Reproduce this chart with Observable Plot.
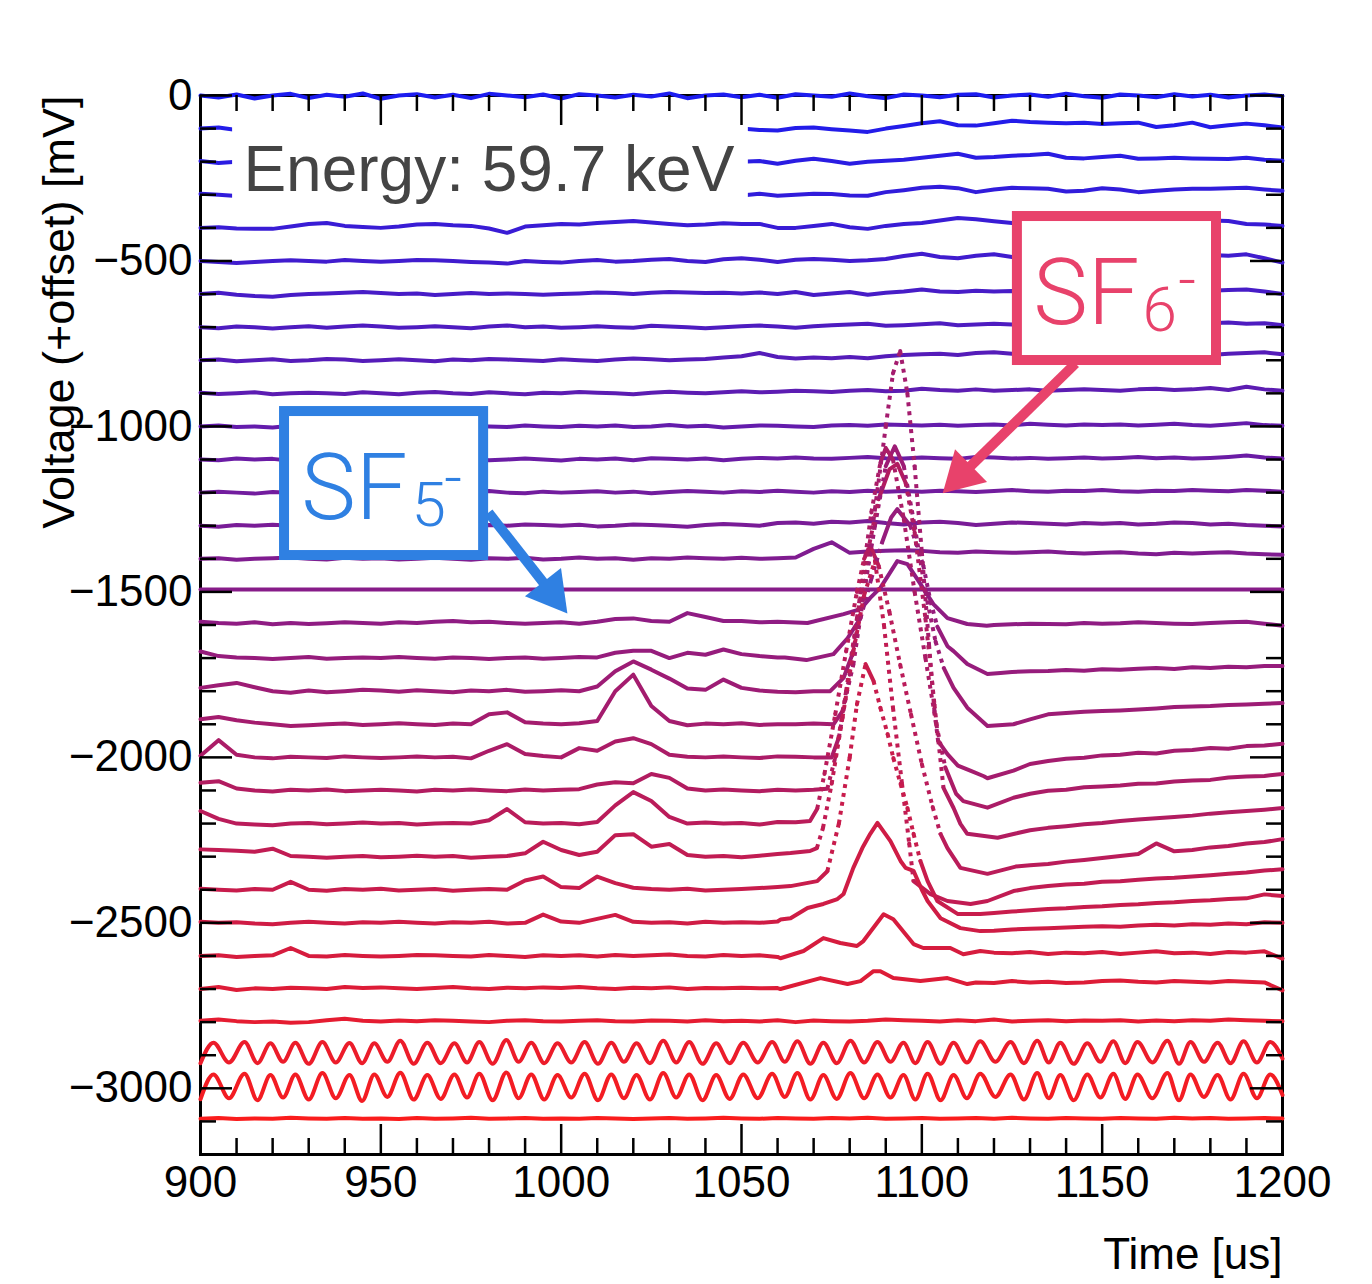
<!DOCTYPE html>
<html><head><meta charset="utf-8">
<script src="https://cdn.jsdelivr.net/npm/d3@7"></script>
<script src="https://cdn.jsdelivr.net/npm/@observablehq/plot@0.6"></script>
<style>
html,body{margin:0;padding:0;background:#fff;}
#chart{width:1372px;height:1284px;}
</style></head><body><div id="chart"></div>
<script>
// ---------------- DATA ----------------
const timeGrid = [900,905,910,915,920,925,930,935,940,945,950,955,960,965,970,975,980,985,990,995,1000,1005,1010,1015,1020,1025,1030,1035,1040,1045,1050,1055,1060,1065,1070,1075,1080,1085,1090,1095,1100,1105,1110,1115,1120,1125,1130,1135,1140,1145,1150,1155,1160,1165,1170,1175,1180,1185,1190,1195,1200];
const offsets = [0,-100,-200,-300,-400,-500,-600,-700,-800,-900,-1000,-1100,-1200,-1300,-1400,-1500,-1600,-1700,-1800,-1900,-2000,-2100,-2200,-2300,-2400,-2500,-2600,-2700,-2800,-2900,-3000,-3100];
const _ = null;
// deviation from each trace's offset [mV] on timeGrid (null = given by detailed points below)
const wave0 = [0,-6,3,-9,0,5,-8,2,-4,6, -10,0,4,-6,2,-8,5,0,-5,3, -9,4,0,-6,2,-3,6,-8,0,3, -5,2,-7,4,0,-4,6,-2,-8,3, 0,-5,2,4,-6,0,3,-4,5,-2, -7,3,0,-5,4,-3,2,-6,0,3, -2];
const wave1 = [0,3,-4,2,-6,4,0,-3,5,-2, 3,-5,0,4,-3,2,-6,3,0,-4, 5,-2,3,-5,0,4,-3,2,-4,3, 0,-4,-6,2,3,-2,-6,-10,0,8, 16,22,10,9,16,24,20,18,16,18, 14,16,18,5,10,18,4,10,15,10, 3];
const wave2 = [2,-4,0,3,-5,2,0,-3,4,0, -4,2,5,-2,0,3,-5,0,4,-2, 0,-5,3,0,-3,4,-2,0,3,-4, 0,2,-6,3,9,2,-6,0,3,6, 12,18,24,12,14,18,20,24,12,10, 14,18,9,10,12,10,9,8,12,6, 3];
const wave3 = [3,0,-4,2,5,-2,0,4,-3,2, 0,-5,3,0,-2,4,0,-4,2,0, 3,-3,0,5,-2,0,3,-4,2,0, -2,3,-3,0,3,2,-2,-3,8,14, 21,24,20,8,16,21,20,18,10,12, 20,16,8,12,16,18,18,20,21,16, 12];
const wave4 = [0,2,-2,-3,-3,4,12,15,6,3, 0,4,10,12,8,6,-2,-15,4,8, 12,10,15,18,21,16,12,8,10,14, 12,12,0,0,6,12,2,-3,6,12, 15,22,30,26,20,15,18,21,16,14, 12,14,21,18,16,20,22,21,12,10, 6];
const wave5 = [0,-3,-6,-3,0,2,0,-2,3,0, -2,0,3,2,0,-3,-5,-8,0,-3, -5,0,3,-2,0,4,6,0,-3,5, 8,4,-3,4,6,4,0,2,6,15, 22,12,8,16,20,12,16,18,14,18, 14,16,18,20,22,24,18,16,20,8, -5];
const wave6 = [0,4,-2,-6,-8,-3,0,2,4,6, 3,0,2,-3,0,3,0,2,0,-2, 0,2,5,3,0,4,6,5,3,4, 2,5,0,6,-3,2,6,-2,4,8, 14,8,6,10,8,9,8,10,8,6, 9,8,5,8,10,12,10,12,14,8, 0];
const wave7 = [0,-3,2,0,-4,0,3,-2,2,5, 2,-2,0,3,0,-3,2,5,0,2, -2,0,3,0,-2,4,2,0,-3,0, 3,5,2,-2,3,6,8,10,4,6, 9,12,6,8,10,8,12,10,8,10, 8,10,12,9,10,8,12,14,10,12, 6];
const wave8 = [0,2,-3,0,3,-2,0,4,2,-2, 0,3,0,-3,2,0,4,2,0,-2, 3,0,-2,2,5,3,0,2,4,8, 12,22,10,5,8,6,10,6,12,16, 18,20,16,22,24,20,18,22,20,16, 18,20,16,20,22,18,16,20,22,24, 18];
const wave9 = [2,-2,0,3,-3,0,2,0,-2,3, 0,-3,2,4,0,-2,3,0,-3,2, 0,4,2,0,-3,2,5,2,0,3, 6,3,5,8,6,4,8,10,6,8, 14,10,8,12,8,10,12,8,10,12, 10,8,12,14,10,12,16,10,20,12, 8];
const wave10 = [0,3,-2,0,-3,2,0,3,0,-2, 2,0,-3,0,3,2,0,-2,3,0, -2,2,0,3,-2,0,4,0,2,-3, 0,3,2,0,-2,3,4,2,6,4, 3,5,2,4,6,3,8,5,3,6, 4,6,3,5,8,4,2,6,10,4, 2];
const wave11 = [0,-2,3,0,2,-4,0,3,-2,0, 3,0,-3,2,0,4,-2,0,3,0, -3,2,0,3,-2,4,2,0,3,-2, 2,5,3,6,3,2,5,8,4,3, 6,4,2,8,6,3,5,2,4,6, 3,5,8,4,6,3,5,8,12,6, 3];
const wave12 = [0,3,0,-3,2,0,3,-2,0,4, 2,0,-2,3,0,2,5,0,-2,3, 0,2,4,0,3,-2,2,5,3,0, 4,2,6,3,0,4,2,6,3,5, 3,6,4,2,5,8,4,3,6,5, 8,4,3,6,5,8,6,4,8,6, 3];
const wave13 = [0,-3,2,0,3,0,-2,4,0,2, -2,0,3,2,0,-3,2,0,4,2, 0,3,-2,0,4,2,0,-3,2,5, 3,0,8,10,6,12,10,14,8,4, 10,12,8,2,6,10,8,6,4,8, 6,8,4,6,10,8,4,6,2,0, -2];
const wave14 = [0,2,-3,0,2,4,0,-2,3,0, 2,-2,0,3,0,-3,2,0,3,-2, 0,4,0,2,-3,2,0,4,2,0, 3,0,2,4,30,50,18,22,24,26, 24,20,18,22,20,18,20,22,18,16, 18,20,16,14,18,16,18,20,16,14, 12];
const wave15 = [7,7,7,7,7,7,7,7,7,7, 7,7,7,7,7,7,7,7,7,7, 7,7,7,7,7,7,7,7,7,7, 7,7,7,7,7,7,7,7,7,7, 7,7,7,7,7,7,7,7,7,7, 7,7,7,7,7,7,7,7,7,7, 7];
const wave16 = [10,6,4,8,2,6,3,5,8,6, 4,8,6,10,12,8,10,6,4,6, 8,4,10,18,20,12,10,36,24,12, 12,8,_,_,_,_,_,_,_,_, _,_,_,_,0,2,4,3,2,6, 4,5,8,6,4,3,6,8,10,4, -2];
const wave17 = [20,6,2,0,-3,0,3,-2,0,2, 0,3,0,-2,2,0,-3,0,2,-2, 0,3,2,16,22,22,0,16,10,26, 12,6,2,_,_,_,_,_,_,_, _,_,_,_,_,-42,-40,-39,-36,-38, -34,-35,-32,-30,-33,-28,-30,-26,-28,-24, -24];
const wave18 = [10,18,25,12,0,-5,2,-3,0,4, 2,-2,3,0,-3,2,0,4,-2,0, 3,0,14,60,90,65,38,8,4,35, 10,2,-2,_,_,_,_,_,_,_, _,_,_,_,_,_,-85,-70,-66,-62, -60,-58,-55,-52,-48,-46,-45,-42,-40,-38, -36];
const wave19 = [15,22,12,5,0,-5,-3,0,2,-2, 0,3,0,-2,2,0,30,36,6,2, 0,3,10,100,150,55,10,-3,2,0, 3,-2,0,_,_,_,_,_,_,_, _,_,_,_,_,_,-120,-111,-104,-101, -94,-92,-86,-88,-80,-78,-72,-74,-66,-64, -59];
const wave20 = [5,52,8,0,-3,2,0,-2,3,0, -2,0,3,0,2,-3,20,40,10,4, 0,28,20,48,58,40,8,2,0,3, 0,-2,3,_,_,_,_,_,_,_, _,_,_,_,_,_,-110,-101,-98,-90, -88,-85,-80,-79,-73,-70,-68,-61,-58,-56, -50];
const wave21 = [23,28,6,0,-3,2,0,3,-2,0, 2,0,-3,2,0,3,0,-2,3,0, 2,4,18,25,22,50,38,6,0,3, 0,-2,2,_,_,_,_,_,_,_, _,_,_,_,_,_,-120,-113,-108,-102, -98,-92,-88,-84,-80,-76,-70,-66,-62,-58, -53];
const wave22 = [38,14,0,-3,-5,0,2,-2,0,3, 0,2,-3,0,2,0,10,44,4,0, 2,-2,5,55,95,68,20,0,3,0, 2,-3,5,_,_,_,_,_,_,_, _,_,_,_,_,_,-126,-122,-115,-110, -104,-98,-92,-60,-84,-80,-72,-68,-60,-56, -47];
const wave23 = [22,20,18,15,24,2,0,-3,0,2, -2,0,3,0,2,-3,0,2,10,45, 20,5,15,65,68,30,38,5,0,2, -2,3,8,_,_,_,_,_,_,_, _,_,_,_,_,_,-95,-89,-84,-82, -76,-74,-70,-66,-64,-60,-56,-52,-48,-42, -38];
const wave24 = [3,0,-2,2,0,24,0,-3,2,0, 3,-2,0,2,-3,0,2,0,28,40, 8,5,40,20,6,2,0,3,-2,0, 2,5,8,_,_,_,_,_,_,_, _,_,_,_,-70,-66,-62,-58,-56,-52, -50,-46,-44,-40,-38,-34,-32,-28,-26,-14, -19];
const wave25 = [3,0,2,-2,-4,0,3,0,-2,2, 0,3,0,-2,2,0,3,-2,0,25, 4,0,12,24,3,0,2,-2,3,0, 2,0,4,_,_,_,_,_,_,_, _,_,_,_,-24,-20,-18,-16,-14,-12, -10,-12,-8,-6,-8,-4,-6,-2,-4,2, 0];
const wave26 = [0,2,-3,0,2,24,0,-2,3,0, -2,0,3,2,0,-2,3,0,-3,2, 0,2,-2,3,0,2,4,0,-2,3, 0,2,-3,_,_,_,_,_,_,_, _,_,_,_,10,8,12,6,10,8, 12,6,10,14,8,10,6,12,10,14, -8];
const wave27 = [0,6,-3,2,0,4,2,0,6,3, 5,2,0,3,6,2,0,4,2,5, 3,6,2,0,4,2,5,0,3,2, 4,2,3,_,_,_,_,_,_,_, _,_,_,20,18,24,20,22,18,20, 24,26,22,20,24,22,20,24,22,20, -4];
const wave28 = [4,8,3,0,2,-2,0,6,10,4, 2,5,3,6,4,2,0,4,6,3, 2,4,6,3,2,5,4,2,6,3, 4,2,6,0,5,3,2,4,8,6, 4,2,6,3,8,2,4,6,3,5, 4,6,2,5,3,6,4,8,6,4, 3];
const wave31 = [8,10,7,9,8,11,9,8,10,8, 9,7,10,8,9,11,8,9,10,8, 9,8,10,9,7,9,10,8,9,11, 9,8,10,9,8,10,9,11,8,9, 10,8,9,10,8,11,9,8,10,9, 8,10,9,8,11,9,10,8,9,10, 9];

// detailed points [time us, deviation mV] around the SF6- pulses
const peak16 = [[1060,10],[1068.3,6],[1078.3,33],[1083,48],[1085.7,82],[1088.5,112],[1093.2,193],[1096,184],[1099.6,124],[1103.2,63],[1107.1,21],[1112.6,3],[1118,-2]];
const peak17 = [[1062,2],[1068,-6],[1075.5,12],[1079.4,60],[1083,121],[1086,240],[1089,350],[1091.5,425],[1093.2,450],[1096.8,400],[1100.4,280],[1102.4,172],[1104.3,95],[1107.1,36],[1108.8,21],[1112.6,-18],[1118.2,-48],[1121.8,-45]];
const peak18 = [[1065,-3],[1070,0],[1074.6,0],[1078.3,40],[1080.8,113],[1084,300],[1087,500],[1090,680],[1092.5,740],[1095,680],[1098,500],[1101,300],[1103.8,150],[1106.1,70],[1108.8,10],[1112.6,-50],[1118.2,-105],[1125.4,-100]];
const peak19 = [[1065,0],[1070,2],[1075.5,0],[1078,40],[1081,180],[1084,400],[1087,650],[1090,900],[1092,1060],[1094,1128],[1096,1000],[1098,780],[1100,520],[1102,240],[1103.5,40],[1104.5,-50],[1107.1,-90],[1110,-125],[1113.6,-141],[1117.2,-157],[1118.2,-163],[1125.4,-140]];
const peak20 = [[1065,2],[1070,0],[1075,0],[1077,60],[1080,250],[1083,500],[1086,740],[1088.5,890],[1090,935],[1092,900],[1095,720],[1098,500],[1101,300],[1104,100],[1106.5,-30],[1109.5,-110],[1111.5,-132],[1118.2,-152],[1125.4,-122]];
const peak21 = [[1065,0],[1070,2],[1073.8,5],[1076,100],[1079,300],[1082,520],[1085,720],[1088,880],[1091,970],[1093.2,987],[1095.5,930],[1098,780],[1101,520],[1103.5,260],[1106,8],[1108.8,-53],[1110.7,-101],[1112.6,-131],[1121,-143],[1126,-130]];
const peak22 = [[1065,4],[1069,8],[1071,45],[1073,150],[1076,330],[1079,520],[1082,700],[1084,800],[1085.7,839],[1088,780],[1091,640],[1094,480],[1097,330],[1100,180],[1103,50],[1105.2,-32],[1107.1,-74],[1110.7,-134],[1118.2,-152],[1126,-130]];
const peak23 = [[1063.6,11],[1069,17],[1070.9,26],[1072.6,87],[1075,220],[1078,420],[1081,620],[1084,790],[1087,894],[1089.5,700],[1092,450],[1094.5,220],[1096.5,40],[1097.7,-74],[1102.4,-113],[1107.1,-134],[1113.5,-143],[1118.2,-134],[1125.4,-104]];
const peak24 = [[1063.6,11],[1071,26],[1073.8,56],[1077,200],[1080,400],[1082,560],[1084.4,682],[1086.6,631],[1088.5,550],[1090.5,471],[1092.1,398],[1094.1,320],[1096,247],[1097.7,169],[1099.6,87],[1101.6,26],[1104.3,-34],[1109.9,-73],[1116.2,-73]];
const peak25 = [[1060.8,10],[1063.6,14],[1068.3,45],[1072.7,57],[1076.6,72],[1078.3,87],[1081,166],[1083.5,226],[1085.7,269],[1087.7,302],[1091.3,247],[1094.1,187],[1095.5,166],[1097.7,157],[1100,100],[1101.6,66],[1105.2,14],[1110.7,-16],[1116.2,-25]];
const peak26 = [[1060.8,-7],[1067.2,15],[1072.7,54],[1077.4,39],[1082,30],[1083.8,45],[1089.4,126],[1092.1,111],[1097.7,36],[1100.4,24],[1107.9,24],[1111.5,5],[1116.2,15]];
const peak27 = [[1060.8,0],[1071.9,33],[1079.4,15],[1083,24],[1086.6,54],[1088.5,54],[1092.1,33],[1099.6,24],[1107.1,33],[1112.6,15]];

// the two oscillating traces: extremes (trough/peak) times and values
const oscTimes = [900,903.6,907.9,912.2,915.8,919.4,922.9,926.3,930.0,933.8,
  937.5,941.3,944.8,948.2,951.8,955.4,959.1,962.9,966.6,970.4,
  973.9,977.3,981.0,984.8,988.2,991.7,995.3,999.0,1002.8,1006.5,
  1010.2,1013.9,1017.4,1020.9,1024.6,1028.3,1031.9,1035.5,1039.2,1043.0,
  1046.7,1050.5,1054.5,1058.5,1062.0,1065.5,1069.1,1072.7,1076.4,1080.2,
  1084.0,1087.7,1091.3,1094.9,1098.2,1101.6,1105.2,1108.8,1112.5,1116.2,
  1120.4,1124.6,1128.3,1132.0,1135.2,1138.4,1142.1,1145.9,1149.5,1153.1,
  1156.4,1159.8,1163.9,1168.1,1171.3,1174.5,1178.2,1182.0,1185.6,1189.2,
  1192.9,1196.6,1200];
const osc29 = [-24,38,-22,40,-24,36,-20,38,-26,40,
  -22,37,-24,36,-20,44,-26,38,-24,36,
  -22,40,-26,46,-20,38,-24,36,-22,40,
  -26,38,-20,36,-24,44,-22,40,-26,36,
  -24,38,-22,40,-20,42,-26,38,-24,44,
  -22,40,-20,38,-24,40,-26,38,-22,42,
  -20,40,-24,44,-22,38,-26,36,-20,42,
  -24,40,-22,44,-26,40,-20,38,-24,42,
  -22,40,-10];
const osc30 = [-33,42,-30,44,-36,40,-28,42,-34,46,
  -30,40,-38,42,-26,47,-34,40,-32,42,
  -28,44,-36,48,-30,42,-34,40,-28,44,
  -36,42,-30,40,-34,46,-28,42,-36,40,
  -32,42,-30,44,-26,46,-34,40,-32,46,
  -30,42,-28,40,-34,44,-36,40,-30,44,
  -26,42,-34,46,-30,40,-36,42,-28,44,
  -32,42,-30,46,-36,42,-26,40,-34,44,
  -30,42,-20];

const xMajorTicks = [900,950,1000,1050,1100,1150,1200];
const xMinorTicks = [910,920,930,940,960,970,980,990,1010,1020,1030,1040,1060,1070,1080,1090,1110,1120,1130,1140,1160,1170,1180,1190];
const yMajorTicks = [0,-500,-1000,-1500,-2000,-2500,-3000];
const yMinorTicks = [-100,-200,-300,-400,-600,-700,-800,-900,-1100,-1200,-1300,-1400,-1600,-1700,-1800,-1900,-2100,-2200,-2300,-2400,-2600,-2700,-2800,-2900,-3100];

// ---------------- BUILD ----------------
const W = 1372, H = 1284, ML = 200, MR = 90, MT = 95, MB = 130;
const xDomain = [900, 1200], yDomain = [-3200, 0];
const innerW = W - ML - MR, innerH = H - MT - MB;
const kx = innerW / (xDomain[1] - xDomain[0]);
const ky = innerH / (yDomain[1] - yDomain[0]);

const waves = [wave0,wave1,wave2,wave3,wave4,wave5,wave6,wave7,wave8,wave9,wave10,wave11,wave12,wave13,wave14,wave15,
  wave16,wave17,wave18,wave19,wave20,wave21,wave22,wave23,wave24,wave25,wave26,wave27,wave28,null,null,wave31];
const peaks = {16:peak16,17:peak17,18:peak18,19:peak19,20:peak20,21:peak21,22:peak22,23:peak23,24:peak24,25:peak25,26:peak26,27:peak27};
const oscs = {29: osc29, 30: osc30};

const solid = [], dotted = [];
offsets.forEach((off, i) => {
  let pts;
  if (oscs[i]) pts = oscTimes.map((t, k) => [t, oscs[i][k]]);
  else {
    const d = peaks[i] || [];
    const lo = d.length ? d[0][0] : Infinity, hi = d.length ? d[d.length - 1][0] : -Infinity;
    pts = timeGrid.map((t, k) => [t, waves[i][k]])
      .filter(([t, v]) => v != null && !(t >= lo && t <= hi))
      .concat(d).sort((a, b) => a[0] - b[0]);
  }
  pts.forEach(([t, v], k) => {
    solid.push({t, v: off + v, trace: i, osc: !!oscs[i]});
    const nx = pts[k + 1];
    if (nx && !oscs[i]) {
      const slope = Math.abs((nx[1] - v) * ky) / Math.abs((nx[0] - t) * kx);
      if (slope > 3) {
        dotted.push({t1: t, v1: off + v, t2: nx[0], v2: off + nx[1], trace: i});
        solid.push({t: (t + nx[0]) / 2, v: NaN, trace: i, osc: false});
      }
    }
  });
});

const SF5C = "#2f80e2", SF6C = "#e8426b";
const SANS = "'Liberation Sans', Arial, Helvetica, sans-serif";
const LIGHT = "Roboto, 'Open Sans', sans-serif";

const plot = Plot.plot({
  width: W, height: H,
  marginLeft: ML, marginRight: MR, marginTop: MT, marginBottom: MB,
  style: {fontFamily: SANS, fontSize: "44px", background: "transparent", color: "#000", overflow: "visible"},
  x: {domain: xDomain, axis: null},
  y: {domain: yDomain, axis: null},
  color: {type: "linear", domain: [0, 31], range: ["#1c1cf0", "#fa1c1c"], interpolate: "rgb"},
  marks: [
    Plot.frame({stroke: "#000", strokeWidth: 3}),
    Plot.line(solid.filter(d => !d.osc), {x: "t", y: "v", z: "trace", stroke: "trace", strokeWidth: 4, strokeLinejoin: "round", strokeLinecap: "round"}),
    Plot.line(solid.filter(d => d.osc), {x: "t", y: "v", z: "trace", stroke: "trace", strokeWidth: 4, curve: "monotone-x"}),
    Plot.link(dotted, {x1: "t1", y1: "v1", x2: "t2", y2: "v2", stroke: "trace", strokeWidth: 4, strokeDasharray: "4,5"}),

    // Energy label
    Plot.rect([0], {x1: 908.9, x2: 1051.9, y1: -75.6, y2: -353.6, fill: "white"}),
    Plot.text(["Energy: 59.7 keV"], {text: d => d, x: 911.9, y: -287.1, textAnchor: "start", lineAnchor: "bottom", fontSize: 64, fill: "#444", fontFamily: SANS}),

    // SF5- annotation
    Plot.link([0], {x1: 979.85, y1: -1260.2, x2: 995.3, y2: -1475.1, stroke: SF5C, strokeWidth: 10}),
    Plot.dot([0], {x: 1001.76, y: -1565.4, symbol: "triangle", r: 17, rotate: 142, fill: SF5C, stroke: "none", dx: -16.4, dy: -21.0}),
    Plot.rect([0], {x1: 923.3, x2: 978.5, y1: -955.0, y2: -1390.1, fill: "white", stroke: SF5C, strokeWidth: 10}),
    Plot.text(["SF"], {text: d => d, x: 927.9, y: -1278.3, textAnchor: "start", lineAnchor: "bottom", fontSize: 92, fontWeight: 300, fontFamily: LIGHT, fill: SF5C}),
    Plot.text(["5"], {text: d => d, x: 958.5, y: -1299.5, textAnchor: "start", lineAnchor: "bottom", fontSize: 62, fontWeight: 300, fontFamily: LIGHT, fill: SF5C}),
    Plot.text(["-"], {text: d => d, x: 967.6, y: -1219.7, textAnchor: "start", lineAnchor: "bottom", fontSize: 62, fontWeight: 300, fontFamily: LIGHT, fill: SF5C}),

    // SF6- annotation
    Plot.link([0], {x1: 1142.6, y1: -809.9, x2: 1113.3, y2: -1122.4, stroke: SF6C, strokeWidth: 10}),
    Plot.dot([0], {x: 1105.73, y: -1202.8, symbol: "triangle", r: 17, rotate: 225.6, fill: SF6C, stroke: "none", dx: 19.1, dy: -18.7}),
    Plot.rect([0], {x1: 1126.5, x2: 1181.7, y1: -365.7, y2: -800.8, fill: "white", stroke: SF6C, strokeWidth: 10}),
    Plot.text(["SF"], {text: d => d, x: 1130.9, y: -689.0, textAnchor: "start", lineAnchor: "bottom", fontSize: 92, fontWeight: 300, fontFamily: LIGHT, fill: SF6C}),
    Plot.text(["6"], {text: d => d, x: 1161.2, y: -710.2, textAnchor: "start", lineAnchor: "bottom", fontSize: 62, fontWeight: 300, fontFamily: LIGHT, fill: SF6C}),
    Plot.text(["-"], {text: d => d, x: 1171.1, y: -621.3, textAnchor: "start", lineAnchor: "bottom", fontSize: 62, fontWeight: 300, fontFamily: LIGHT, fill: SF6C}),

    // ticks (inside the frame, on all four sides)
    Plot.tickX(xMajorTicks, {x: d => d, insetTop: innerH - 30, stroke: "#000", strokeWidth: 2.5}),
    Plot.tickX(xMinorTicks, {x: d => d, insetTop: innerH - 16, stroke: "#000", strokeWidth: 2.5}),
    Plot.tickX(xMajorTicks, {x: d => d, insetBottom: innerH - 30, stroke: "#000", strokeWidth: 2.5}),
    Plot.tickX(xMinorTicks, {x: d => d, insetBottom: innerH - 16, stroke: "#000", strokeWidth: 2.5}),
    Plot.tickY(yMajorTicks, {y: d => d, insetRight: innerW - 32, stroke: "#000", strokeWidth: 2.5}),
    Plot.tickY(yMinorTicks, {y: d => d, insetRight: innerW - 16, stroke: "#000", strokeWidth: 2.5}),
    Plot.tickY(yMajorTicks, {y: d => d, insetLeft: innerW - 32, stroke: "#000", strokeWidth: 2.5}),
    Plot.tickY(yMinorTicks, {y: d => d, insetLeft: innerW - 16, stroke: "#000", strokeWidth: 2.5}),

    // axes labels
    Plot.axisX(xMajorTicks, {anchor: "bottom", tickSize: 0, tickPadding: 11, fontSize: 44, tickFormat: d3.format("d"), label: null}),
    Plot.axisY(yMajorTicks, {anchor: "left", tickSize: 0, tickPadding: 8, fontSize: 44, tickFormat: d3.format("d"), label: null}),
    Plot.text(["Time [us]"], {text: d => d, frameAnchor: "bottom-right", textAnchor: "end", lineAnchor: "bottom", dy: 114, fontSize: 44}),
    Plot.text(["Voltage (+offset) [mV]"], {text: d => d, frameAnchor: "top-left", rotate: -90, textAnchor: "end", dx: -158, fontSize: 45})
  ]
});
document.getElementById("chart").appendChild(plot);
</script>
</body></html>
